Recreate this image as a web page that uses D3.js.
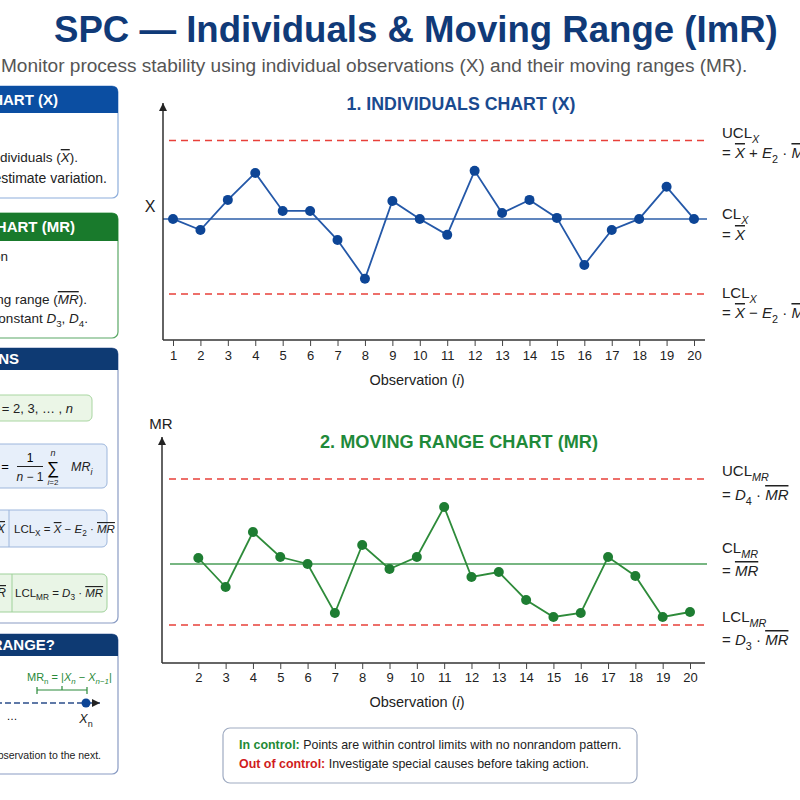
<!DOCTYPE html>
<html>
<head>
<meta charset="utf-8">
<script src="https://cdn.jsdelivr.net/npm/d3@7"></script>
<style>
  body { margin: 0; background: #fff; }
  svg { display: block; font-family: "Liberation Sans", Arial, Helvetica, sans-serif; }
</style>
</head>
<body>
<script>
// ---- data ----
var obsX = [1, 2, 3, 4, 5, 6, 7, 8, 9, 10, 11, 12, 13, 14, 15, 16, 17, 18, 19, 20];
var xVals = [10.0, 9.57, 10.74, 11.79, 10.31, 10.31, 9.18, 7.67, 10.70, 10.0,
             9.38, 11.87, 10.23, 10.74, 10.04, 8.21, 9.57, 10.0, 11.25, 10.0];
var xLimits = [13.05, 10.0, 7.08];           // UCL, CL, LCL

var obsMR = [2, 3, 4, 5, 6, 7, 8, 9, 10, 11, 12, 13, 14, 15, 16, 17, 18, 19, 20];
var mrVals = [2.10, 1.52, 2.62, 2.12, 1.98, 1.00, 2.36, 1.88, 2.12, 3.12,
              1.72, 1.82, 1.26, 0.92, 1.00, 2.12, 1.74, 0.92, 1.02];
var mrLimits = [3.68, 1.98, 0.76];           // UCL, CL, LCL

var W = 800, H = 800;
var RED = "#e8403a", NAVY = "#0e3a73", BLUE = "#0d4596", GREEN = "#1e7d32";

var svg = d3.select("body").append("svg").attr("width", W).attr("height", H);

svg.append("defs").append("marker")
    .attr("id", "arrow").attr("markerUnits", "userSpaceOnUse")
    .attr("viewBox", "0 0 10 10").attr("refX", 10).attr("refY", 5)
    .attr("markerWidth", 8).attr("markerHeight", 9).attr("orient", "auto")
  .append("path").attr("d", "M0,0L10,5L0,10z").attr("fill", "#222");

// text with italic / sub / overline pieces: [text, flags]  i=italic s=sub o=overline b=bold
function rich(sel, x, y, parts, size, color, anchor) {
  var t = sel.append("text").attr("x", x).attr("y", y)
      .attr("font-size", size).attr("fill", color || "#222");
  if (anchor) t.attr("text-anchor", anchor);
  var shift = 0;
  parts.forEach(function (p) {
    var f = p[1] || "";
    var s = t.append("tspan").text(p[0]);
    var want = f.indexOf("s") >= 0 ? size * 0.3 : 0;
    if (want !== shift) { s.attr("dy", want - shift); shift = want; }
    if (f.indexOf("s") >= 0) s.attr("font-size", size * 0.72);
    if (f.indexOf("i") >= 0) s.attr("font-style", "italic");
    if (f.indexOf("o") >= 0) s.style("text-decoration", "overline");
    if (f.indexOf("b") >= 0) s.attr("font-weight", "bold");
  });
  return t;
}

function fitWidth(t, w) {
  var len = t.node().getComputedTextLength();
  t.attr("font-size", +t.attr("font-size") * w / len);
}

// ---- heading ----
var title = svg.append("text").attr("x", 54).attr("y", 42)
    .attr("font-size", 36).attr("font-weight", "bold").attr("fill", "#103a78")
    .text("SPC \u2014 Individuals & Moving Range (ImR)");
fitWidth(title, 724);

var sub = svg.append("text").attr("x", 1).attr("y", 72)
    .attr("font-size", 19).attr("fill", "#555")
    .text("Monitor process stability using individual observations (X) and their moving ranges (MR).");
fitWidth(sub, 747);

// ---- left panels (cut by the left edge) ----
var panels = [
  { top: 86, hb: 113, bottom: 198, color: "#0b4ea2", border: "#8eaedb", head: "1. INDIVIDUALS CHART (X)", hx: 58 },
  { top: 213, hb: 241, bottom: 338, color: "#197a2c", border: "#5aa866", head: "2. MOVING RANGE CHART (MR)", hx: 75 },
  { top: 348, hb: 370, bottom: 623, color: NAVY, border: "#8a9cc4", head: "KEY CALCULATIONS", hx: 19 },
  { top: 634, hb: 656, bottom: 774, color: NAVY, border: "#8a9cc4", head: "WHAT IS A MOVING RANGE?", hx: 55 }
];
var px0 = -220, px1 = 118;
var pg = svg.append("g");
panels.forEach(function (p) {
  pg.append("rect").attr("x", px0).attr("y", p.top).attr("width", px1 - px0)
    .attr("height", p.bottom - p.top).attr("rx", 6)
    .attr("fill", "#fff").attr("stroke", p.border).attr("stroke-width", 1.2);
  pg.append("path")
    .attr("d", "M" + px0 + "," + p.hb + "V" + (p.top + 6) + "Q" + px0 + "," + p.top + " " + (px0 + 6) + "," + p.top +
         "H" + (px1 - 6) + "Q" + px1 + "," + p.top + " " + px1 + "," + (p.top + 6) + "V" + p.hb + "Z")
    .attr("fill", p.color);
  pg.append("text").attr("x", p.hx).attr("y", (p.top + p.hb) / 2 + 5)
    .attr("text-anchor", "end").attr("font-size", 15).attr("font-weight", "bold")
    .attr("fill", "#fff").text(p.head);
});

// panel 1 body
rich(pg, 78, 162, [["Center line = mean of individuals ("], ["X", "io"], [")."]], 13.5, "#222", "end");
rich(pg, 107, 183, [["Uses moving ranges to estimate variation."]], 14, "#222", "end");
// panel 2 body
rich(pg, 8, 261, [["Shows short-term variation"]], 13.5, "#222", "end");
rich(pg, 87, 304, [["Center line = average moving range ("], ["MR", "io"], [")."]], 13.5, "#222", "end");
rich(pg, 88, 323, [["Limits use constant "], ["D", "i"], ["3", "s"], [", "], ["D", "i"], ["4", "s"], ["."]], 13.5, "#222", "end");

// panel 3 boxes
function box(y0, y1, x1, fill, stroke) {
  pg.append("rect").attr("x", px0 + 20).attr("y", y0).attr("width", x1 - px0 - 20)
    .attr("height", y1 - y0).attr("rx", 5).attr("fill", fill).attr("stroke", stroke);
}
box(395, 421, 92, "#ebf6e7", "#a9d6a1");
rich(pg, 73, 413, [["MR", "i"], ["i", "is"], [" = |"], ["X", "i"], ["i", "is"], [" \u2212 "], ["X", "i"], ["i\u22121", "is"], ["|,   "],
                   ["i", "i"], [" = 2, 3, \u2026 , "], ["n", "i"]], 13, "#222", "end");

box(444, 488, 107, "#e7effa", "#9db6dc");
rich(pg, -2, 471, [["MR", "io"]], 13, "#222", "end");
pg.append("text").attr("x", 5).attr("y", 471).attr("font-size", 13).attr("text-anchor", "middle").text("=");
pg.append("text").attr("x", 30).attr("y", 462).attr("font-size", 12).attr("text-anchor", "middle").text("1");
pg.append("line").attr("x1", 17).attr("x2", 43).attr("y1", 466.5).attr("y2", 466.5).attr("stroke", "#222");
rich(pg, 30, 481, [["n", "i"], [" \u2212 1"]], 12, "#222", "middle");
pg.append("text").attr("x", 53).attr("y", 474).attr("font-size", 17).attr("text-anchor", "middle").text("\u2211");
rich(pg, 53, 456, [["n", "i"]], 9, "#222", "middle");
rich(pg, 53, 485, [["i", "i"], ["=2"]], 8, "#222", "middle");
rich(pg, 71, 471, [["MR", "i"], ["i", "is"]], 12.5, "#222");

box(510, 547, 107, "#e7effa", "#9db6dc");
pg.append("line").attr("x1", 9).attr("x2", 9).attr("y1", 510).attr("y2", 547).attr("stroke", "#9db6dc");
rich(pg, 5, 533, [["CL"], ["X", "s"], [" = "], ["X", "io"]], 12, "#222", "end");
rich(pg, 14, 533, [["LCL"], ["X", "s"], [" = "], ["X", "io"], [" \u2212 "], ["E", "i"], ["2", "s"], [" \u00b7 "], ["MR", "io"]], 11.5, "#222");

box(574, 612, 107, "#e9f5e6", "#9fd19a");
pg.append("line").attr("x1", 12).attr("x2", 12).attr("y1", 574).attr("y2", 612).attr("stroke", "#9fd19a");
rich(pg, 6, 597, [["CL"], ["MR", "s"], [" = "], ["MR", "io"]], 12, "#222", "end");
rich(pg, 15, 597, [["LCL"], ["MR", "s"], [" = "], ["D", "i"], ["3", "s"], [" \u00b7 "], ["MR", "io"]], 11.5, "#222");

// panel 4 sketch
rich(pg, 27, 681, [["MR"], ["n", "s"], [" = |"], ["X", "i"], ["n", "is"], [" \u2212 "], ["X", "i"], ["n\u22121", "is"], ["|"]], 11, "#2a8a3a");
var br = pg.append("g").attr("stroke", "#2a8a3a").attr("stroke-width", 1.2);
br.append("line").attr("x1", 37).attr("x2", 87).attr("y1", 690).attr("y2", 690);
br.append("line").attr("x1", 37).attr("x2", 37).attr("y1", 687).attr("y2", 694);
br.append("line").attr("x1", 87).attr("x2", 87).attr("y1", 687).attr("y2", 694);
br.append("line").attr("x1", 62).attr("x2", 62).attr("y1", 686).attr("y2", 690);
pg.append("line").attr("x1", -40).attr("x2", 100).attr("y1", 703).attr("y2", 703)
  .attr("stroke", "#2b4d8a").attr("stroke-width", 1.3).attr("stroke-dasharray", "6,3")
  .attr("marker-end", "url(#arrow)");
pg.append("circle").attr("cx", 86).attr("cy", 703).attr("r", 4.5).attr("fill", BLUE);
rich(pg, 86, 723, [["X", "i"], ["n", "s"]], 12.5, "#222", "middle");
pg.append("text").attr("x", 12).attr("y", 720).attr("font-size", 11).attr("text-anchor", "middle").text("\u2026");
pg.append("text").attr("x", 101).attr("y", 759).attr("font-size", 10.5).attr("text-anchor", "end").attr("fill", "#222")
  .text("The moving range is the change from one observation to the next.");

// ---- chart builder ----
function chart(o) {
  var g = svg.append("g");
  var x = o.x, y = o.y;
  var y0 = y.range()[0], yTop = y.range()[1];

  // control limits
  var lim = [
    { v: o.limits[0], dash: true, x0: o.dx0 },
    { v: o.limits[1], dash: false, x0: o.cx0 },
    { v: o.limits[2], dash: true, x0: o.dx0 }
  ];
  g.selectAll(".lim").data(lim).enter().append("line")
    .attr("x1", function (d) { return d.x0; }).attr("x2", 707)
    .attr("y1", function (d) { return y(d.v); }).attr("y2", function (d) { return y(d.v); })
    .attr("stroke", function (d) { return d.dash ? RED : o.clColor; })
    .attr("stroke-width", 1.5)
    .attr("stroke-dasharray", function (d) { return d.dash ? "7,5" : null; });

  // axes
  g.append("line").attr("x1", o.ax).attr("x2", o.ax).attr("y1", y0).attr("y2", yTop)
    .attr("stroke", "#222").attr("stroke-width", 1.4).attr("marker-end", "url(#arrow)");
  g.append("line").attr("x1", o.ax).attr("x2", 705).attr("y1", y0).attr("y2", y0)
    .attr("stroke", "#333").attr("stroke-width", 1.4);
  var ax = g.append("g").attr("transform", "translate(0," + y0 + ")")
    .call(d3.axisBottom(x).tickValues(o.obs).tickSize(6).tickPadding(o.pad));
  ax.select(".domain").remove();
  ax.selectAll(".tick line").attr("stroke", "#444");
  ax.selectAll(".tick text").attr("font-size", 13).attr("fill", "#222")
    .attr("font-family", "'Liberation Sans', Arial, sans-serif");

  // series
  var pts = o.obs.map(function (d, i) { return [d, o.vals[i]]; });
  g.append("path").datum(pts)
    .attr("d", d3.line().x(function (d) { return x(d[0]); }).y(function (d) { return y(d[1]); }))
    .attr("fill", "none").attr("stroke", o.lineColor).attr("stroke-width", 1.8);
  g.selectAll(".pt").data(pts).enter().append("circle")
    .attr("cx", function (d) { return x(d[0]); }).attr("cy", function (d) { return y(d[1]); })
    .attr("r", 5).attr("fill", o.ptColor);

  // titles
  var t = g.append("text").attr("x", o.tx).attr("y", o.ty).attr("text-anchor", "middle")
    .attr("font-size", 18).attr("font-weight", "bold").attr("fill", o.titleColor).text(o.title);
  fitWidth(t, o.tw);
  rich(g, 417, o.xly, [["Observation ("], ["i", "i"], [")"]], 14.5, "#222", "middle");
  return g;
}

var xs1 = d3.scaleLinear().domain([1, 20]).range([173, 694]);
var ys1 = d3.scaleLinear().domain([5.29, 14.51]).range([340, 103]);
var g1 = chart({
  x: xs1, y: ys1, obs: obsX, vals: xVals, limits: xLimits, ax: 163, dx0: 169, cx0: 163, pad: 5,
  clColor: "#2b5ea8", lineColor: "#2458a8", ptColor: BLUE,
  title: "1. INDIVIDUALS CHART (X)", titleColor: "#1a4a8f", tx: 461, ty: 110, tw: 229, xly: 385
});
g1.append("text").attr("x", 150).attr("y", 212).attr("font-size", 16).attr("text-anchor", "middle").attr("fill", "#222").text("X");
rich(g1, 722, 138, [["UCL"], ["X", "is"]], 15);
rich(g1, 722, 158, [["= "], ["X", "io"], [" + "], ["E", "i"], ["2", "s"], [" \u00b7 "], ["MR", "io"]], 15);
rich(g1, 722, 219, [["CL"], ["X", "is"]], 15);
rich(g1, 722, 240, [["= "], ["X", "io"]], 15);
rich(g1, 722, 298, [["LCL"], ["X", "is"]], 15);
rich(g1, 722, 318, [["= "], ["X", "io"], [" \u2212 "], ["E", "i"], ["2", "s"], [" \u00b7 "], ["MR", "io"]], 15);

var xs2 = d3.scaleLinear().domain([1, 20]).range([171, 690]);
var ys2 = d3.scaleLinear().domain([0, 4.52]).range([663, 437]);
var g2 = chart({
  x: xs2, y: ys2, obs: obsMR, vals: mrVals, limits: mrLimits, ax: 162, dx0: 169, cx0: 170, pad: 4,
  clColor: "#4a9e58", lineColor: "#2e8b3a", ptColor: GREEN,
  title: "2. MOVING RANGE CHART (MR)", titleColor: "#1f8a3a", tx: 459, ty: 448, tw: 278, xly: 707
});
g2.append("text").attr("x", 161).attr("y", 429).attr("font-size", 15).attr("text-anchor", "middle").attr("fill", "#222").text("MR");
rich(g2, 722, 476, [["UCL"], ["MR", "is"]], 15);
rich(g2, 722, 500, [["= "], ["D", "i"], ["4", "s"], [" \u00b7 "], ["MR", "io"]], 15);
rich(g2, 722, 553, [["CL"], ["MR", "is"]], 15);
rich(g2, 722, 576, [["= "], ["MR", "io"]], 15);
rich(g2, 722, 622, [["LCL"], ["MR", "is"]], 15);
rich(g2, 722, 645, [["= "], ["D", "i"], ["3", "s"], [" \u00b7 "], ["MR", "io"]], 15);

// ---- bottom note ----
svg.append("rect").attr("x", 223).attr("y", 728).attr("width", 414).attr("height", 55).attr("rx", 7)
  .attr("fill", "#fff").attr("stroke", "#9fabc2").attr("stroke-width", 1.2);
var n1 = svg.append("text").attr("x", 239).attr("y", 749).attr("font-size", 13).attr("fill", "#222");
n1.append("tspan").attr("font-weight", "bold").attr("fill", "#1e8a35").text("In control:");
n1.append("tspan").text(" Points are within control limits with no nonrandom pattern.");
fitWidth(n1, 383);
var n2 = svg.append("text").attr("x", 239).attr("y", 768).attr("font-size", +n1.attr("font-size")).attr("fill", "#222");
n2.append("tspan").attr("font-weight", "bold").attr("fill", "#d01c1c").text("Out of control:");
n2.append("tspan").text(" Investigate special causes before taking action.");
</script>
</body>
</html>
